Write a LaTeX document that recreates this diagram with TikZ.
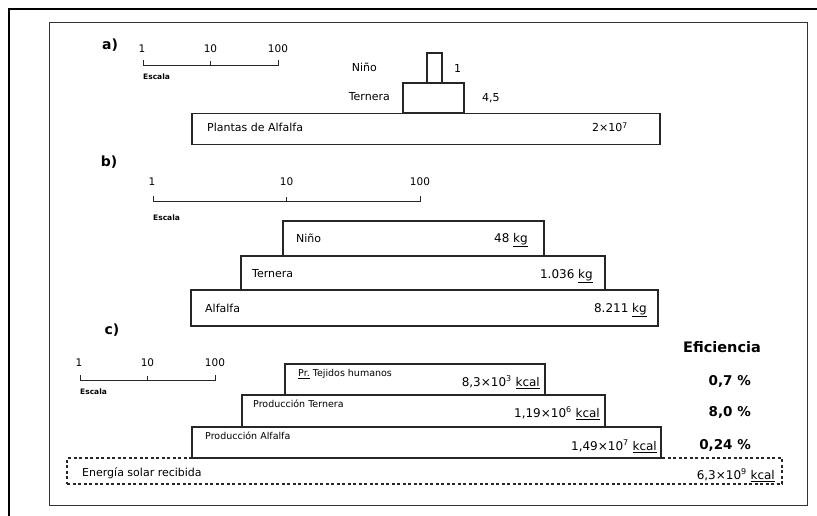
\documentclass[tikz,border=0pt]{standalone}
\usepackage{fontspec}
\setmainfont{DejaVu Sans}
\usetikzlibrary{positioning}
\tikzset{level box/.style={draw=black!85, line width=1.1pt, inner sep=0pt}}
\tikzset{solar/.style={dash pattern=on 3pt off 2.5pt}}
\tikzset{frame line/.style={draw=black!80, line width=1pt}}
\tikzset{scale line/.style={draw=black!85, line width=0.9pt}}
\tikzset{box text/.style={inner sep=0pt, text height=8pt, text depth=0pt, font=\fontsize{11}{13}\selectfont}}
\tikzset{small text/.style={box text, text height=7pt, font=\fontsize{9.5}{11}\selectfont}}
\tikzset{value text/.style={box text, text height=8.7pt, font=\fontsize{12}{14}\selectfont}}
\tikzset{part label/.style={inner sep=0pt, font=\fontsize{14}{16}\selectfont\bfseries}}
\tikzset{scale num/.style={inner sep=0pt, font=\fontsize{10.5}{12}\selectfont}}
\tikzset{scale name/.style={inner sep=0pt, font=\fontsize{7.5}{9}\selectfont\bfseries}}
\tikzset{efi text/.style={inner sep=0pt, text height=9.5pt, text depth=0pt, font=\fontsize{13.5}{16}\selectfont\bfseries}}

\begin{document}
\begin{tikzpicture}
  [x=1pt, y=-1pt]
  \useasboundingbox (0,0) rectangle (817,516);
  \draw [line width=2pt] (9,516) -- (9,9) -- (817,9);
  \draw [frame line] (49,23) rectangle (807,505);

  % escalas
  \foreach \sx/\sy/\sw/\nd/\ed [count=\i] in {143/65/135/16/12, 153/201/267/19/17, 80/380/135/17/12} {
    \draw [scale line] (\sx,\sy-5) -- (\sx,\sy) -- (\sx+\sw,\sy) -- (\sx+\sw,\sy-5);
    \draw [scale line] (\sx+\sw/2,\sy) -- (\sx+\sw/2,\sy-4);
    \node [scale num]               (s\i-1)    at (\sx-1,\sy-\nd)        {1};
    \node [scale num]               (s\i-10)   at (\sx+\sw/2,\sy-\nd)    {10};
    \node [scale num]               (s\i-100)  at (\sx+\sw,\sy-\nd)      {100};
    \node [scale name, anchor=west] (s\i-name) at (\sx,\sy+\ed)          {Escala};
  }

  % a)
  \node [part label]                                            (a-tag)   at (110,45)    {a)};
  \node [level box, minimum width=468pt, minimum height=31pt]   (a-alf)   at (426,129)   {};
  \node [level box, minimum width=61pt, minimum height=30pt]    (a-ter)   at (433.5,98)  {};
  \node [level box, minimum width=15pt, minimum height=30pt]    (a-nin)   at (434.5,68)  {};
  \node [box text, anchor=west]  (a-alf-t) at (207,128) {Plantas de Alfalfa};
  \node [box text, anchor=east]  (a-alf-v) at (628,128) {2×10\textsuperscript{7}};
  \node [box text, anchor=east]  (a-ter-t) at (390,97)  {Ternera};
  \node [box text, anchor=west]  (a-ter-v) at (482,98)  {4,5};
  \node [box text, anchor=east]  (a-nin-t) at (377,68)  {Niño};
  \node [box text, anchor=west]  (a-nin-v) at (454,69)  {1};

  % b)
  \node [part label]                                            (b-tag)   at (109,162)   {b)};
  \node [level box, minimum width=467pt, minimum height=36pt]   (b-alf)   at (424.5,308) {};
  \node [level box, minimum width=364pt, minimum height=34pt]   (b-ter)   at (423,273)   {};
  \node [level box, minimum width=261pt, minimum height=35pt]   (b-nin)   at (413.5,238.5) {};
  \node [box text, anchor=west]   (b-nin-t) at (296,238.5) {Niño};
  \node [value text, anchor=east] (b-nin-v) at (528,238)   {48 \underline{kg}};
  \node [box text, anchor=west]   (b-ter-t) at (252,273.5) {Ternera};
  \node [value text, anchor=east] (b-ter-v) at (593,274)   {1.036 \underline{kg}};
  \node [box text, anchor=west]   (b-alf-t) at (205,308)   {Alfalfa};
  \node [value text, anchor=east] (b-alf-v) at (647,308)   {8.211 \underline{kg}};

  % c)
  \node [part label]                                                   (c-tag) at (112,330)   {c)};
  \node [level box, solar, minimum width=715pt, minimum height=26pt]   (c-sol) at (424.5,471) {};
  \node [level box, minimum width=469pt, minimum height=31pt]          (c-alf) at (426.5,442.5) {};
  \node [level box, minimum width=363pt, minimum height=32pt]          (c-ter) at (423.5,411) {};
  \node [level box, minimum width=260pt, minimum height=31pt]          (c-hum) at (415,379.5) {};
  \node [small text, anchor=west]  (c-hum-t) at (298,373) {\underline{Pr.} Tejidos humanos};
  \node [value text, anchor=east]  (c-hum-v) at (540,382) {8,3×10\textsuperscript{3} \underline{kcal}};
  \node [small text, anchor=west]  (c-ter-t) at (253,404) {Producción Ternera};
  \node [value text, anchor=east]  (c-ter-v) at (600,413) {1,19×10\textsuperscript{6} \underline{kcal}};
  \node [small text, anchor=west]  (c-alf-t) at (205,436) {Producción Alfalfa};
  \node [value text, anchor=east]  (c-alf-v) at (657,446) {1,49×10\textsuperscript{7} \underline{kcal}};
  \node [box text, anchor=west]    (c-sol-t) at (82,472)  {Energía solar recibida};
  \node [value text, anchor=east]  (c-sol-v) at (775,475) {6,3×10\textsuperscript{9} \underline{kcal}};

  \node [efi text, font=\fontsize{14.5}{17}\selectfont\bfseries] (efi)     at (722,348) {Eficiencia};
  \node [efi text, anchor=east]                                   (efi-hum) at (751,381) {0,7 \%};
  \node [efi text, anchor=east]                                   (efi-ter) at (751,412) {8,0 \%};
  \node [efi text, anchor=east]                                   (efi-alf) at (751,445) {0,24 \%};
\end{tikzpicture}
\end{document}
